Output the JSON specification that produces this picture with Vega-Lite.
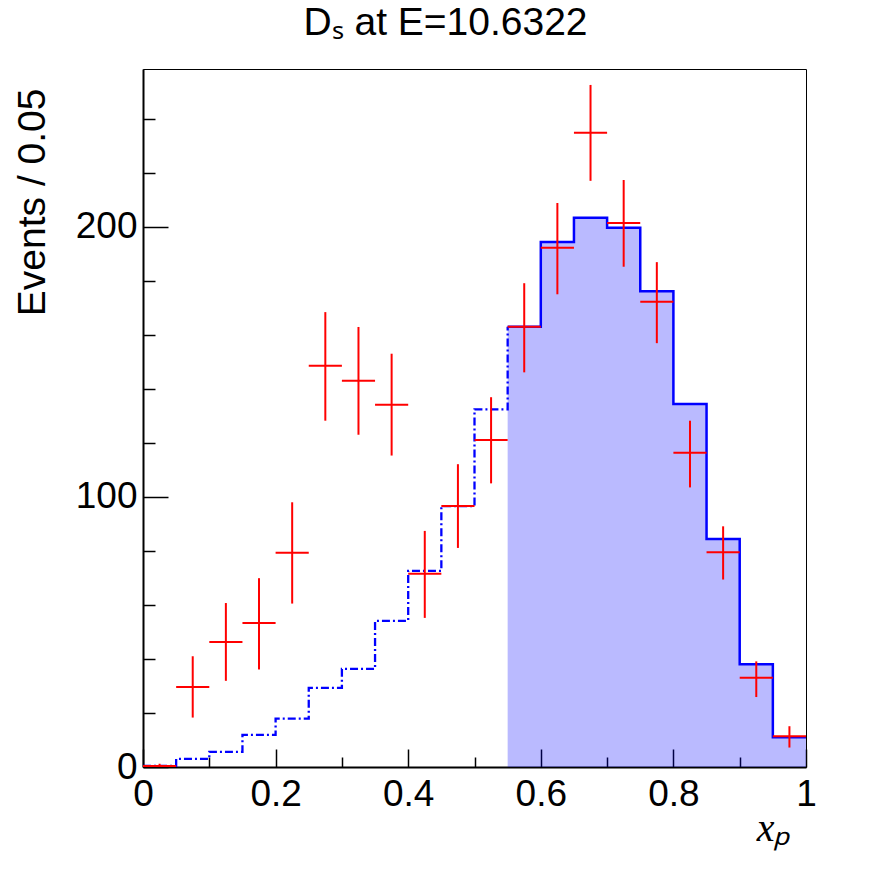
{
  "$schema": "https://vega.github.io/schema/vega-lite/v6.json",
  "width": 663,
  "height": 698,
  "autosize": {"type": "none"},
  "padding": {"left": 143, "top": 69, "right": 90, "bottom": 105},
  "background": "white",
  "title": {
    "text": "Dₛ at E=10.6322",
    "font": "Liberation Sans",
    "fontSize": 39,
    "fontWeight": "normal",
    "color": "black",
    "anchor": "middle",
    "frame": "group",
    "dx": -29,
    "offset": -5,
    "baseline": "alphabetic"
  },
  "config": {
    "view": {"stroke": "black", "strokeWidth": 1},
    "axis": {
      "grid": false,
      "domainColor": "black",
      "domainWidth": 2,
      "tickColor": "black",
      "tickWidth": 1.5,
      "labelFont": "Liberation Sans",
      "labelFontSize": 37,
      "labelColor": "black",
      "labelFlush": false,
      "labelOverlap": false,
      "labelBound": false,
      "titleColor": "black",
      "titleFontWeight": "normal"
    }
  },
  "datasets": {
    "bins": [
      {"lo": 0.00, "hi": 0.05, "c": 0.025, "d": 0.4, "dlo": 0.0, "dhi": 1.2},
      {"lo": 0.05, "hi": 0.10, "c": 0.075, "d": 29.6, "dlo": 18.3, "dhi": 41.0},
      {"lo": 0.10, "hi": 0.15, "c": 0.125, "d": 46.3, "dlo": 31.9, "dhi": 60.7},
      {"lo": 0.15, "hi": 0.20, "c": 0.175, "d": 53.3, "dlo": 36.1, "dhi": 69.9},
      {"lo": 0.20, "hi": 0.25, "c": 0.225, "d": 79.3, "dlo": 60.5, "dhi": 98.0},
      {"lo": 0.25, "hi": 0.30, "c": 0.275, "d": 148.5, "dlo": 128.2, "dhi": 168.4},
      {"lo": 0.30, "hi": 0.35, "c": 0.325, "d": 143.0, "dlo": 123.0, "dhi": 162.9},
      {"lo": 0.35, "hi": 0.40, "c": 0.375, "d": 134.1, "dlo": 115.3, "dhi": 153.0},
      {"lo": 0.40, "hi": 0.45, "c": 0.425, "d": 71.5, "dlo": 55.2, "dhi": 87.4},
      {"lo": 0.45, "hi": 0.50, "c": 0.475, "d": 96.6, "dlo": 81.1, "dhi": 112.1},
      {"lo": 0.50, "hi": 0.55, "c": 0.525, "d": 121.1, "dlo": 105.0, "dhi": 136.9},
      {"lo": 0.55, "hi": 0.60, "c": 0.575, "d": 163.0, "dlo": 146.1, "dhi": 179.1},
      {"lo": 0.60, "hi": 0.65, "c": 0.625, "d": 192.2, "dlo": 175.0, "dhi": 208.8},
      {"lo": 0.65, "hi": 0.70, "c": 0.675, "d": 234.8, "dlo": 217.0, "dhi": 252.5},
      {"lo": 0.70, "hi": 0.75, "c": 0.725, "d": 201.4, "dlo": 185.2, "dhi": 217.3},
      {"lo": 0.75, "hi": 0.80, "c": 0.775, "d": 172.2, "dlo": 156.9, "dhi": 186.9},
      {"lo": 0.80, "hi": 0.85, "c": 0.825, "d": 116.3, "dlo": 103.5, "dhi": 128.2},
      {"lo": 0.85, "hi": 0.90, "c": 0.875, "d": 79.5, "dlo": 69.4, "dhi": 89.1},
      {"lo": 0.90, "hi": 0.95, "c": 0.925, "d": 33.0, "dlo": 25.9, "dhi": 39.1},
      {"lo": 0.95, "hi": 1.00, "c": 0.975, "d": 11.4, "dlo": 7.2, "dhi": 15.1}
    ],
    "mcdash": [
      {"x": 0.00, "y": 0.4},
      {"x": 0.05, "y": 3.0},
      {"x": 0.10, "y": 5.6},
      {"x": 0.15, "y": 11.9},
      {"x": 0.20, "y": 17.9},
      {"x": 0.25, "y": 29.3},
      {"x": 0.30, "y": 36.3},
      {"x": 0.35, "y": 54.1},
      {"x": 0.40, "y": 72.6},
      {"x": 0.45, "y": 96.6},
      {"x": 0.50, "y": 132.4},
      {"x": 0.55, "y": 163.0}
    ],
    "mcsolid": [
      {"x": 0.55, "y": 163.0},
      {"x": 0.60, "y": 194.4},
      {"x": 0.65, "y": 203.3},
      {"x": 0.70, "y": 199.6},
      {"x": 0.75, "y": 176.1},
      {"x": 0.80, "y": 134.4},
      {"x": 0.85, "y": 84.4},
      {"x": 0.90, "y": 38.0},
      {"x": 0.95, "y": 11.0},
      {"x": 1.00, "y": 11.0}
    ]
  },
  "layer": [
    {
      "data": {"name": "mcsolid"},
      "mark": {"type": "area", "interpolate": "step-after", "color": "#0000ff", "fillOpacity": 0.27, "clip": true},
      "encoding": {
        "x": {
          "field": "x", "type": "quantitative",
          "scale": {"domain": [0, 1], "nice": false, "zero": false},
          "axis": {
            "values": [0, 0.05, 0.1, 0.15, 0.2, 0.25, 0.3, 0.35, 0.4, 0.45, 0.5, 0.55, 0.6, 0.65, 0.7, 0.75, 0.8, 0.85, 0.9, 0.95, 1],
            "labelExpr": "abs(datum.value*5 - round(datum.value*5)) < 0.000001 ? format(datum.value, '.1~f') : ''",
            "tickSize": {"condition": {"test": "abs(datum.value*5 - round(datum.value*5)) < 0.000001", "value": -18}, "value": -10},
            "labelPadding": 27,
            "labelBaseline": "top",
            "title": "xₚ",
            "titleFont": "Liberation Serif",
            "titleFontStyle": "italic",
            "titleFontSize": 40,
            "titleAnchor": null,
            "titleAlign": "right",
            "titleBaseline": "alphabetic",
            "titleX": 647,
            "titleY": 73
          }
        },
        "y": {
          "field": "y", "type": "quantitative",
          "scale": {"domain": [0, 258.4], "nice": false},
          "axis": {
            "values": [0, 20, 40, 60, 80, 100, 120, 140, 160, 180, 200, 220, 240],
            "labelExpr": "datum.value % 100 == 0 ? format(datum.value, 'd') : ''",
            "tickSize": {"condition": {"test": "datum.value % 100 == 0", "value": -25}, "value": -12},
            "labelPadding": 31,
            "title": "Events / 0.05",
            "titleFont": "Liberation Sans",
            "titleFontSize": 39,
            "titleAngle": -90,
            "titleAnchor": null,
            "titleAlign": "right",
            "titleBaseline": "alphabetic",
            "titleX": -99,
            "titleY": 19
          }
        }
      }
    },
    {
      "data": {"name": "mcdash"},
      "mark": {"type": "line", "interpolate": "step-after", "color": "#0000ff", "strokeWidth": 2.3, "strokeDash": [8, 3, 2, 3]},
      "encoding": {
        "x": {"field": "x", "type": "quantitative"},
        "y": {"field": "y", "type": "quantitative"}
      }
    },
    {
      "data": {"name": "mcsolid"},
      "mark": {"type": "line", "interpolate": "step-after", "color": "#0000ff", "strokeWidth": 2.5},
      "encoding": {
        "x": {"field": "x", "type": "quantitative"},
        "y": {"field": "y", "type": "quantitative"}
      }
    },
    {
      "data": {"name": "bins"},
      "mark": {"type": "rule", "color": "#ff0000", "strokeWidth": 2},
      "encoding": {
        "x": {"field": "lo", "type": "quantitative"},
        "x2": {"field": "hi"},
        "y": {"field": "d", "type": "quantitative"}
      }
    },
    {
      "data": {"name": "bins"},
      "mark": {"type": "rule", "color": "#ff0000", "strokeWidth": 2},
      "encoding": {
        "x": {"field": "c", "type": "quantitative"},
        "y": {"field": "dlo", "type": "quantitative"},
        "y2": {"field": "dhi"}
      }
    }
  ]
}
